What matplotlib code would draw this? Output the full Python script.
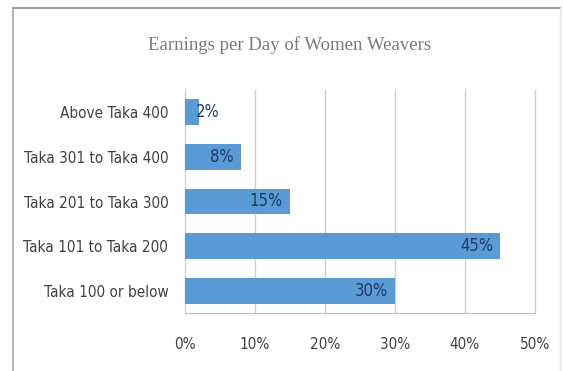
import matplotlib.pyplot as plt
from matplotlib.lines import Line2D

categories = ['Taka 100 or below', 'Taka 101 to Taka 200', 'Taka 201 to Taka 300',
              'Taka 301 to Taka 400', 'Above Taka 400']
shares = [30, 45, 15, 8, 2]
xticks = [0, 10, 20, 30, 40, 50]
xtick_labels = ['0%', '10%', '20%', '30%', '40%', '50%']

narrow = dict(family='DejaVu Sans', stretch='condensed')

fig = plt.figure(figsize=(5.63, 3.71), dpi=100)
fig.patch.set_facecolor('white')

# chart frame: top and left edges, faint right edge, runs off the bottom
W, H = 563, 371
fig.lines.append(Line2D([13 / W, 560 / W], [1 - 8 / H, 1 - 8 / H],
                        transform=fig.transFigure, color='#a0a0a0', linewidth=1.5))
fig.lines.append(Line2D([13 / W, 13 / W], [0, 1 - 8 / H],
                        transform=fig.transFigure, color='#a8a8a8', linewidth=1.2))
fig.lines.append(Line2D([560 / W, 560 / W], [0, 1 - 8 / H],
                        transform=fig.transFigure, color='#e4e4e4', linewidth=1))

ax = fig.add_axes([185 / W, 1 - 313 / H, 350 / W, 223 / H])
ax.barh(range(len(categories)), shares, height=0.58, color='#5b9bd5', zorder=3)

for i, v in enumerate(shares):
    if v < 5:
        ax.annotate(f'{v}%', (v, i), xytext=(-2, 0), textcoords='offset points',
                    ha='left', va='center', fontsize=12, color='#1f3864',
                    zorder=4, **narrow)
    else:
        ax.annotate(f'{v}%', (v, i), xytext=(-5, 0), textcoords='offset points',
                    ha='right', va='center', fontsize=12, color='#1f3864',
                    zorder=4, **narrow)

ax.set_xlim(0, 50)
ax.set_ylim(-0.5, len(categories) - 0.5)
ax.set_xticks(xticks)
ax.set_xticklabels(xtick_labels, fontsize=11, color='#404040', **narrow)
ax.set_yticks(range(len(categories)))
ax.set_yticklabels(categories, fontsize=11, color='#404040', **narrow)
ax.tick_params(length=0, pad=17, axis='x')
ax.tick_params(length=0, pad=12, axis='y')
ax.grid(axis='x', color='#cfcfcf', linewidth=1, zorder=0)
for gl in ax.get_xgridlines():
    gl.set_clip_on(False)
for side in ['top', 'right', 'left']:
    ax.spines[side].set_visible(False)
ax.spines['bottom'].set_color('#bfbfbf')

fig.text(290 / W, 1 - 45 / H, 'Earnings per Day of Women Weavers',
         ha='center', va='center', fontsize=13.5, family='Liberation Serif',
         color='#7a7a7a')

fig.savefig('out.png', dpi=100)
